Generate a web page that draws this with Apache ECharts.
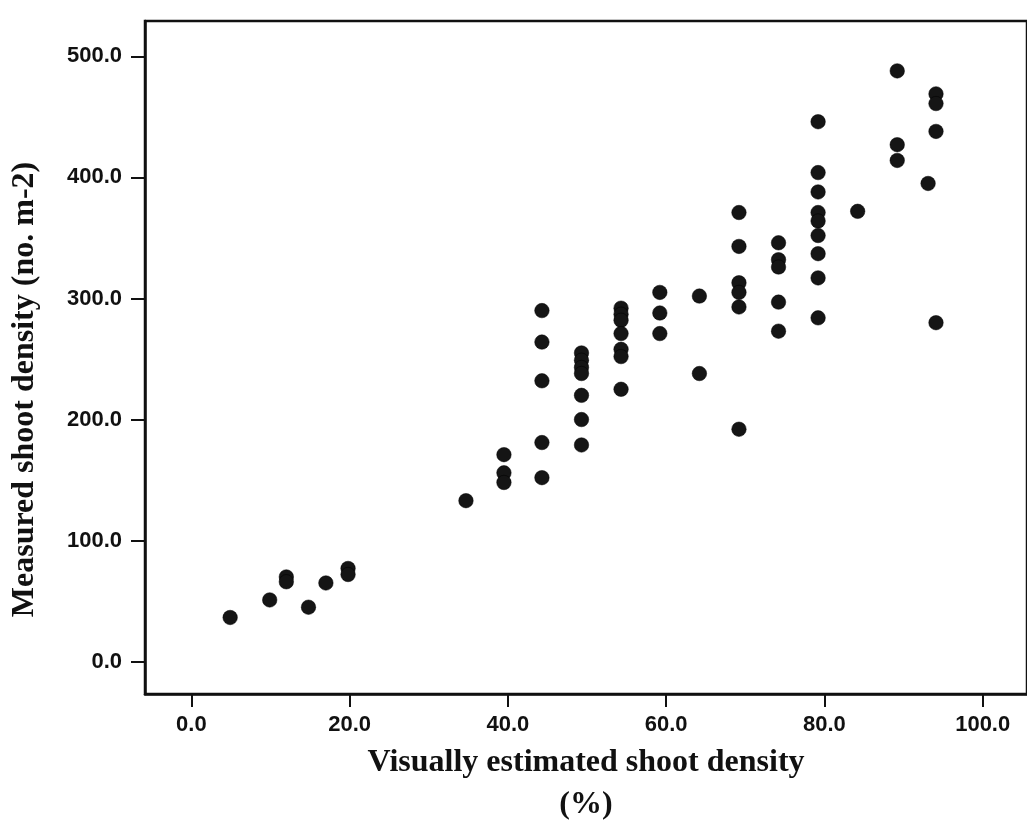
<!DOCTYPE html>
<html>
<head>
<meta charset="utf-8">
<script src="https://cdn.jsdelivr.net/npm/echarts@6/dist/echarts.min.js"></script>
<style>
html,body{margin:0;padding:0;background:#fff;}
#chart{width:1027px;height:831px;}
</style>
</head>
<body>
<div id="chart"></div>
<script>
// Visually estimated shoot density (%)
const xValues = [
  4.9, 9.9, 12.0, 12.0, 14.8, 17.0, 19.8, 19.8,
  34.7, 39.5, 39.5, 39.5,
  44.3, 44.3, 44.3, 44.3, 44.3,
  49.3, 49.3, 49.3, 49.3, 49.3, 49.3, 49.3,
  54.3, 54.3, 54.3, 54.3, 54.3, 54.3, 54.3,
  59.2, 59.2, 59.2,
  64.2, 64.2,
  69.2, 69.2, 69.2, 69.2, 69.2, 69.2,
  74.2, 74.2, 74.2, 74.2, 74.2,
  79.2, 79.2, 79.2, 79.2, 79.2, 79.2, 79.2, 79.2, 79.2,
  84.2,
  89.2, 89.2, 89.2,
  93.1,
  94.1, 94.1, 94.1, 94.1
];
// Measured shoot density (no. m-2)
const yValues = [
  36.5, 51, 70, 66, 45, 65, 77, 72,
  133, 171, 156, 148,
  290, 264, 232, 181, 152,
  255, 249, 243, 238, 220, 200, 179,
  292, 287, 282, 271, 258, 252, 225,
  305, 288, 271,
  302, 238,
  371, 343, 313, 305, 293, 192,
  346, 332, 326, 297, 273,
  446, 404, 388, 371, 364, 352, 337, 317, 284,
  372,
  488, 427, 414,
  395,
  469, 461, 438, 280
];
const xTicks = [0, 20, 40, 60, 80, 100];
const yTicks = [0, 100, 200, 300, 400, 500];
const xTitle = 'Visually estimated shoot density\n(%)';
const yTitle = 'Measured shoot density (no. m-2)';

const points = xValues.map((x, i) => [x, yValues[i]]);

const chart = echarts.init(document.getElementById('chart'), null, {renderer: 'canvas'});
const labelFont = {fontFamily: 'Liberation Sans', fontWeight: 'bold', fontSize: 22, color: '#111'};
const titleFont = {fontFamily: 'Liberation Serif', fontWeight: 'bold', fontSize: 32, color: '#111'};

chart.setOption({
  animation: false,
  backgroundColor: '#fff',
  grid: {
    left: 145, top: 21, width: 894, height: 686,
    show: true, borderColor: '#111', borderWidth: 2.5, backgroundColor: 'transparent'
  },
  xAxis: {
    type: 'value', min: -5.86, max: 105.6,
    axisLine: {show: true, onZero: false, lineStyle: {color: '#111', width: 2.5}},
    axisTick: {show: true, length: 13, lineStyle: {color: '#111', width: 2}, customValues: xTicks},
    axisLabel: Object.assign({margin: 20, customValues: xTicks, formatter: v => v.toFixed(1)}, labelFont),
    splitLine: {show: false},
    name: xTitle, nameLocation: 'middle', nameGap: 48,
    nameTextStyle: Object.assign({lineHeight: 42}, titleFont)
  },
  yAxis: {
    type: 'value', min: -26.7, max: 529.2,
    axisLine: {show: true, onZero: false, lineStyle: {color: '#111', width: 2.5}},
    axisTick: {show: true, length: 14, lineStyle: {color: '#111', width: 2}, customValues: yTicks},
    axisLabel: Object.assign({margin: 23, customValues: yTicks, formatter: v => v.toFixed(1)}, labelFont),
    splitLine: {show: false},
    name: yTitle, nameLocation: 'middle', nameGap: 104, nameRotate: 90,
    nameTextStyle: Object.assign({padding: [0, 64, 0, 0]}, titleFont)
  },
  series: [{
    type: 'scatter',
    data: points,
    symbol: 'circle',
    symbolSize: 14.5,
    itemStyle: {color: '#151515', borderColor: '#000', borderWidth: 0.5, opacity: 1}
  }]
});
</script>
</body>
</html>
